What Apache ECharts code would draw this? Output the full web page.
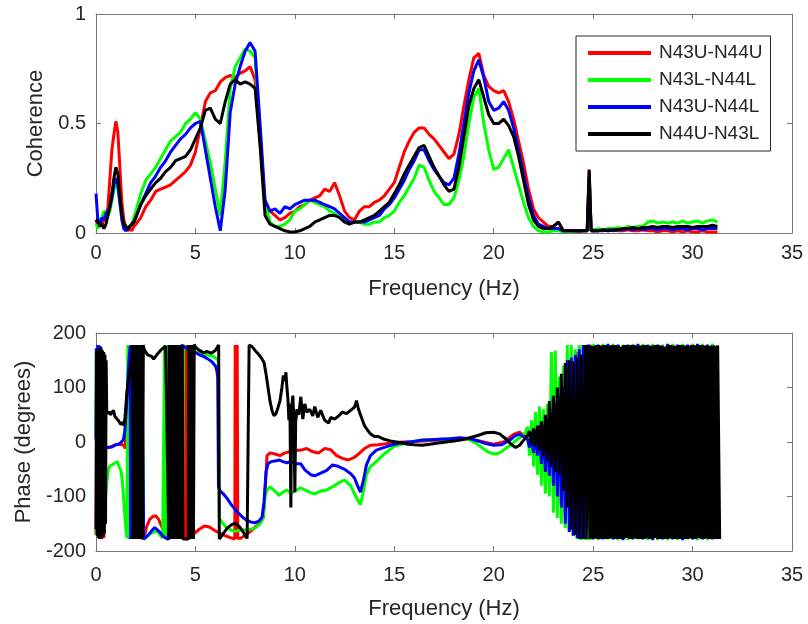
<!DOCTYPE html>
<html>
<head>
<meta charset="utf-8">
<script src="https://cdn.jsdelivr.net/npm/echarts@6.0.0/dist/echarts.min.js"></script>
<style>
  html, body { margin: 0; padding: 0; background: #ffffff; }
  #chart { width: 808px; height: 624px; }
</style>
</head>
<body>
<div id="chart"></div>
<script>
// Pair names and line colours (legend order)
const PAIRS = ['N43U-N44U', 'N43L-N44L', 'N43U-N44L', 'N44U-N43L'];
const COLORS = ['#ff0000', '#00ff00', '#0000ff', '#000000'];

// Frequency grid of the coherence estimates (Hz)
const FREQ = [
  0, 0.1, 0.2, 0.3, 0.4, 0.5, 0.6, 0.7, 0.8, 0.9,
  1, 1.1, 1.2, 1.3, 1.4, 1.5, 1.6, 1.7, 1.8, 1.9,
  2, 2.25, 2.5, 2.75,
  3, 3.25, 3.5, 3.75,
  4, 4.25, 4.5, 4.75,
  5, 5.25, 5.5, 5.75,
  6, 6.25, 6.5, 6.75,
  7, 7.25, 7.5, 7.75,
  8, 8.25, 8.5, 8.75,
  9, 9.25, 9.5, 9.75,
  10, 10.25, 10.5, 10.75,
  11, 11.25, 11.5, 11.75,
  12, 12.25, 12.5, 12.75,
  13, 13.25, 13.5, 13.75,
  14, 14.25, 14.5, 14.75,
  15, 15.25, 15.5, 15.75,
  16, 16.25, 16.5, 16.75,
  17, 17.25, 17.5, 17.75,
  18, 18.25, 18.5, 18.75,
  19, 19.25, 19.5, 19.75,
  20, 20.25, 20.5, 20.75,
  21, 21.25, 21.5, 21.75,
  22, 22.25, 22.5, 22.75,
  23, 23.25, 23.5, 23.75,
  24, 24.25, 24.5, 24.7, 24.8, 24.9,
  25, 25.25, 25.5, 25.75,
  26, 26.25, 26.5, 26.75,
  27, 27.25, 27.5, 27.75,
  28, 28.25, 28.5, 28.75,
  29, 29.25, 29.5, 29.75,
  30, 30.25, 30.5, 30.75,
  31, 31.25
];

// Coherence, one value per FREQ entry
const COH_N43U_N44U = [
  0.06, 0.03, 0.05, 0.04, 0.06, 0.08, 0.12, 0.25, 0.38, 0.45,
  0.51, 0.46, 0.30, 0.14, 0.06, 0.03, 0.01, 0.02, 0.01, 0.03,
  0.04, 0.07, 0.12, 0.15,
  0.19, 0.20, 0.21, 0.22,
  0.24, 0.26, 0.28, 0.31,
  0.37, 0.48, 0.60, 0.64,
  0.65, 0.69, 0.71, 0.72,
  0.71, 0.73, 0.74, 0.76,
  0.70, 0.42, 0.14, 0.10,
  0.08, 0.06, 0.07, 0.09,
  0.10, 0.12, 0.13, 0.15,
  0.16, 0.17, 0.20, 0.19,
  0.23, 0.17, 0.10, 0.07,
  0.06, 0.10, 0.12, 0.12,
  0.14, 0.15, 0.17, 0.20,
  0.23, 0.30, 0.37, 0.42,
  0.46, 0.48, 0.48, 0.45,
  0.43, 0.40, 0.37, 0.34,
  0.36, 0.45, 0.58, 0.70,
  0.80, 0.82, 0.72, 0.67,
  0.65, 0.64, 0.65, 0.60,
  0.52, 0.42, 0.32, 0.20,
  0.11, 0.07, 0.05, 0.03,
  0.03, 0.05, 0.01, 0.01,
  0.01, 0.005, 0.01, 0.01, 0.28, 0.01,
  0.01, 0.01, 0.015, 0.01,
  0.015, 0.01, 0.01, 0.015,
  0.01, 0.01, 0.015, 0.01,
  0.01, 0.005, 0.01, 0.01,
  0.005, 0.01, 0.005, 0.01,
  0.005, 0.005, 0.01, 0.005,
  0.005, 0.005
];
const COH_N43L_N44L = [
  0.04, 0.02, 0.06, 0.07, 0.10, 0.09, 0.08, 0.10, 0.15, 0.20,
  0.23, 0.20, 0.14, 0.08, 0.04, 0.02, 0.02, 0.03, 0.04, 0.07,
  0.10, 0.18, 0.24, 0.27,
  0.30, 0.34, 0.38, 0.42,
  0.44, 0.46, 0.50, 0.52,
  0.55, 0.52, 0.42, 0.32,
  0.20, 0.08, 0.33, 0.66,
  0.76, 0.80, 0.84, 0.83,
  0.80, 0.45, 0.14, 0.05,
  0.03, 0.03, 0.04, 0.06,
  0.10, 0.11, 0.13, 0.15,
  0.14, 0.13, 0.12, 0.10,
  0.09, 0.07, 0.06, 0.05,
  0.05, 0.05, 0.04, 0.04,
  0.05, 0.05, 0.07, 0.08,
  0.10, 0.14, 0.17, 0.21,
  0.25, 0.31, 0.30, 0.24,
  0.19, 0.16, 0.13, 0.13,
  0.16, 0.24, 0.35, 0.50,
  0.62, 0.66, 0.50, 0.38,
  0.29, 0.30, 0.34, 0.38,
  0.30, 0.22, 0.14, 0.07,
  0.03, 0.01, 0.005, 0.005,
  0.01, 0.01, 0.005, 0.01,
  0.005, 0.01, 0.01, 0.01, 0.02, 0.01,
  0.015, 0.02, 0.015, 0.02,
  0.02, 0.025, 0.02, 0.03,
  0.025, 0.03, 0.03, 0.05,
  0.055, 0.045, 0.05, 0.045,
  0.05, 0.045, 0.055, 0.045,
  0.05, 0.055, 0.045, 0.055,
  0.06, 0.05
];
const COH_N43U_N44L = [
  0.18, 0.05, 0.04, 0.07, 0.06, 0.09, 0.10, 0.12, 0.16, 0.22,
  0.25, 0.22, 0.14, 0.06, 0.02, 0.01, 0.02, 0.03, 0.04, 0.05,
  0.07, 0.13, 0.18, 0.23,
  0.26, 0.30, 0.33, 0.37,
  0.40, 0.43, 0.45, 0.48,
  0.50, 0.51, 0.38, 0.25,
  0.12, 0.01, 0.20, 0.55,
  0.68, 0.76, 0.83, 0.87,
  0.83, 0.50, 0.15, 0.10,
  0.11, 0.09, 0.12, 0.11,
  0.13, 0.14, 0.15, 0.15,
  0.15, 0.14, 0.13, 0.12,
  0.11, 0.09, 0.07, 0.05,
  0.05, 0.05, 0.05, 0.06,
  0.07, 0.08, 0.11, 0.13,
  0.16, 0.20, 0.24, 0.29,
  0.33, 0.38, 0.38, 0.33,
  0.29, 0.26, 0.23, 0.22,
  0.25, 0.36, 0.50, 0.64,
  0.74, 0.79, 0.71, 0.60,
  0.56, 0.57, 0.60, 0.56,
  0.48, 0.38, 0.27, 0.16,
  0.08, 0.04, 0.03, 0.02,
  0.02, 0.02, 0.01, 0.01,
  0.01, 0.01, 0.01, 0.01, 0.26, 0.01,
  0.01, 0.01, 0.01, 0.015,
  0.01, 0.015, 0.015, 0.02,
  0.015, 0.02, 0.015, 0.02,
  0.02, 0.015, 0.02, 0.02,
  0.015, 0.02, 0.02, 0.015,
  0.02, 0.02, 0.015, 0.02,
  0.02, 0.02
];
const COH_N44U_N43L = [
  0.06, 0.05, 0.03, 0.04, 0.02, 0.04, 0.08, 0.12, 0.18, 0.25,
  0.30, 0.27, 0.17, 0.09, 0.04, 0.03, 0.02, 0.03, 0.03, 0.05,
  0.07, 0.13, 0.17, 0.20,
  0.23, 0.25, 0.28, 0.30,
  0.33, 0.34, 0.35, 0.38,
  0.43, 0.48, 0.56, 0.57,
  0.52, 0.50, 0.60, 0.68,
  0.70, 0.68, 0.69, 0.68,
  0.66, 0.40, 0.08, 0.04,
  0.03, 0.02, 0.01, 0.005,
  0.005, 0.01, 0.02, 0.03,
  0.05, 0.06, 0.07, 0.08,
  0.08, 0.07, 0.05, 0.04,
  0.05, 0.05, 0.06, 0.07,
  0.08, 0.10, 0.12, 0.14,
  0.18, 0.22, 0.27, 0.31,
  0.35, 0.39, 0.40, 0.35,
  0.30, 0.26, 0.22, 0.19,
  0.20, 0.30, 0.44, 0.58,
  0.66, 0.70, 0.62, 0.54,
  0.50, 0.50, 0.52, 0.49,
  0.44, 0.35, 0.24, 0.13,
  0.06, 0.03, 0.02, 0.02,
  0.03, 0.05, 0.01, 0.01,
  0.01, 0.01, 0.01, 0.01, 0.29, 0.01,
  0.01, 0.01, 0.015, 0.01,
  0.015, 0.015, 0.02, 0.02,
  0.025, 0.02, 0.025, 0.025,
  0.03, 0.025, 0.03, 0.03,
  0.025, 0.03, 0.03, 0.03,
  0.025, 0.03, 0.03, 0.03,
  0.035, 0.03
];

// Phase (degrees) as [frequency, phase] pairs, up to 24.75 Hz
const PH_N43U_N44U = [
  [0, -170], [0.05, 160], [0.1, -175], [0.15, 170], [0.2, -178], [0.25, 172], [0.3, -178], [0.35, 165], [0.4, -176],
  [0.45, -10], [0.5, -10], [0.6, -10], [0.7, -8], [0.8, -8], [0.9, -6], [1.0, -5], [1.1, -5], [1.2, -4], [1.3, -3],
  [1.4, -6], [1.48, -12], [1.5, 45], [1.55, 60], [1.62, 120], [1.7, 178], [1.72, -178], [1.8, 178], [1.9, -178],
  [2.0, 178], [2.1, -178], [2.2, 178], [2.3, -178], [2.42, -176], [2.55, -155], [2.7, -142], [2.85, -137],
  [3.0, -135], [3.15, -142], [3.3, -155], [3.45, -166], [3.6, -175], [3.7, 178], [3.8, -178], [3.9, 178],
  [4.0, -178], [4.1, 178], [4.2, -178], [4.3, 178], [4.38, -178], [4.42, 178], [4.46, -178], [4.5, 178],
  [4.54, -178], [4.58, 178], [4.62, -178], [4.8, -174], [5.0, -166], [5.2, -160], [5.45, -154], [5.7, -156],
  [5.95, -162], [6.2, -167], [6.5, -172], [6.8, -176], [6.98, -178], [7.0, 178], [7.05, -178], [7.1, 178],
  [7.13, -177], [7.3, -176], [7.5, -171], [7.7, -166], [7.9, -160], [8.1, -153], [8.3, -146], [8.42, -138],
  [8.52, -80], [8.6, -25], [8.75, -20], [9.0, -22], [9.25, -25], [9.5, -20], [9.75, -18], [10.0, -15],
  [10.3, -15], [10.6, -12], [10.9, -18], [11.2, -20], [11.5, -12], [11.8, -14], [12.1, -25], [12.4, -30],
  [12.7, -33], [13.0, -28], [13.2, -22], [13.5, -12], [13.8, -6], [14.2, -5], [14.6, -3], [15.0, -1],
  [15.5, 0], [16.0, 1], [16.5, 2], [17.0, 3], [17.5, 4], [18.0, 6], [18.5, 5], [19.0, 4], [19.5, 0],
  [20.0, -4], [20.5, 0], [21.0, 14], [21.3, 18], [21.6, 10], [21.8, 5],
  [22.0, -15], [22.2, 20], [22.4, -30], [22.6, 35], [22.8, -50], [23.0, 55], [23.2, -80], [23.4, 90],
  [23.6, -130], [23.8, 140], [24.0, -165], [24.2, 165], [24.4, -178], [24.6, 178], [24.75, -178]
];
const PH_N43L_N44L = [
  [0, 5], [0.01, 170], [0.03, -170], [0.06, 160], [0.1, -175], [0.14, 165], [0.18, -178], [0.22, 170],
  [0.26, -175], [0.3, 160], [0.34, -170], [0.38, 150], [0.42, -165], [0.46, -120], [0.5, -92], [0.56, -70],
  [0.62, -50], [0.7, -44], [0.8, -46], [0.9, -40], [1.0, -38], [1.08, -36], [1.16, -45], [1.25, -52],
  [1.32, -70], [1.4, -110], [1.48, -150], [1.55, -176], [1.6, 178], [1.65, -178], [1.7, 176], [1.75, -177],
  [1.8, 178], [1.85, -178], [1.9, 178], [2.0, -178], [2.1, 178], [2.2, -178], [2.3, 178], [2.4, -178],
  [2.5, -176], [2.6, -172], [2.75, -168], [2.9, -165], [3.0, -162], [3.1, -164], [3.2, -170], [3.35, -176],
  [3.42, -179], [3.45, 178], [3.5, -178], [3.55, 178], [3.6, -178], [3.65, 178], [3.75, -178], [3.85, 178],
  [3.95, -178], [4.05, 178], [4.15, -178], [4.25, 178], [4.35, -178], [4.4, 178], [4.5, 172], [4.7, 170],
  [5.0, 165], [5.3, 163], [5.6, 160], [5.9, 157], [6.1, 152], [6.15, 148], [6.2, -140], [6.3, -145],
  [6.5, -155], [6.75, -161], [7.0, -164], [7.25, -162], [7.5, -161], [7.75, -160], [8.0, -158], [8.25, -150],
  [8.4, -140], [8.5, -100], [8.6, -88], [8.75, -82], [9.0, -90], [9.2, -98], [9.4, -92], [9.6, -88],
  [9.8, -95], [10.0, -90], [10.3, -84], [10.5, -88], [10.8, -93], [11.0, -95], [11.3, -90], [11.6, -88],
  [11.9, -82], [12.2, -75], [12.5, -70], [12.8, -80], [13.0, -95], [13.15, -106], [13.3, -115], [13.45, -90],
  [13.6, -60], [13.8, -45], [14.1, -36], [14.4, -25], [14.7, -16], [15.0, -8], [15.4, -4], [15.8, 0],
  [16.3, 3], [16.8, 4], [17.3, 5], [17.8, 6], [18.3, 7], [18.8, 4], [19.1, -2], [19.4, -10], [19.7, -18],
  [20.0, -22], [20.3, -20], [20.6, -12], [20.9, -4], [21.2, 5], [21.4, 10], [21.6, 18], [21.7, 28],
  [21.8, -25], [21.9, 40], [22.0, -45], [22.1, 55], [22.2, -60], [22.3, 65], [22.4, -80], [22.5, 60],
  [22.6, -95], [22.7, 70], [22.8, -100], [22.9, 165], [23.0, -130], [23.1, 168], [23.2, -140], [23.3, 120],
  [23.4, -150], [23.5, 140], [23.6, -158], [23.7, 178], [23.8, -165], [23.9, 178], [24.0, -172], [24.1, 170],
  [24.2, -178], [24.3, 178], [24.4, -180], [24.5, 178], [24.6, -180], [24.7, 179], [24.75, -180]
];
const PH_N43U_N44L = [
  [0, 5], [0.02, 172], [0.06, -150], [0.09, 178], [0.13, -170], [0.16, 177], [0.2, -176], [0.24, 175],
  [0.28, -172], [0.32, 165], [0.36, -160], [0.4, 120], [0.44, -12], [0.5, -12], [0.6, -10], [0.7, -8],
  [0.8, -9], [0.9, -6], [1.0, -5], [1.1, -4], [1.2, -3], [1.3, -2], [1.38, 4], [1.45, 20], [1.52, 60],
  [1.6, 110], [1.66, 150], [1.72, 176], [1.74, -178], [1.78, 178], [1.82, -178], [1.9, 178], [2.0, -178],
  [2.1, 178], [2.2, -178], [2.3, 178], [2.4, -178], [2.5, -175], [2.65, -170], [2.8, -163], [2.95, -157],
  [3.05, -158], [3.2, -165], [3.35, -172], [3.5, -176], [3.65, -179], [3.68, 178], [3.8, -178], [3.9, 178],
  [4.0, -178], [4.1, 178], [4.2, -178], [4.3, 178], [4.45, 174], [4.6, 171], [4.8, 168], [5.0, 164],
  [5.2, 160], [5.4, 157], [5.6, 153], [5.8, 148], [6.0, 140], [6.08, 130], [6.12, 118], [6.16, -82],
  [6.25, -90], [6.4, -95], [6.6, -104], [6.8, -115], [7.0, -124], [7.2, -132], [7.4, -139], [7.6, -144],
  [7.8, -147], [8.0, -148], [8.2, -145], [8.35, -138], [8.45, -110], [8.55, -55], [8.65, -40], [8.8, -36],
  [9.0, -35], [9.2, -33], [9.4, -36], [9.6, -38], [9.8, -36], [10.0, -40], [10.3, -40], [10.5, -51],
  [10.8, -60], [11.0, -62], [11.3, -57], [11.6, -52], [11.9, -42], [12.2, -45], [12.5, -50], [12.8, -58],
  [13.0, -66], [13.15, -80], [13.3, -92], [13.45, -70], [13.6, -42], [13.8, -25], [14.1, -15], [14.5, -10],
  [14.9, -5], [15.3, -2], [15.8, 0], [16.3, 3], [16.8, 4], [17.3, 5], [17.8, 6], [18.3, 8], [18.8, 6],
  [19.2, 2], [19.6, -3], [20.0, -6], [20.4, -5], [20.8, 3], [21.1, 12], [21.3, 14], [21.5, 10], [21.7, 5],
  [21.8, -10], [21.9, 18], [22.0, -20], [22.1, 22], [22.2, -25], [22.3, 30], [22.4, -40], [22.5, 30],
  [22.6, -55], [22.7, 40], [22.8, -62], [22.9, 55], [23.0, -80], [23.1, 70], [23.2, -100], [23.3, 85],
  [23.4, -120], [23.5, 100], [23.6, -150], [23.7, 150], [23.8, -165], [23.9, 155], [24.0, -172], [24.1, 160],
  [24.2, -176], [24.3, 170], [24.4, -178], [24.5, 178], [24.6, -178], [24.7, 178], [24.75, -178]
];
const PH_N44U_N43L = [
  [0, -160], [0.03, 165], [0.06, -172], [0.09, 170], [0.12, -176], [0.15, 172], [0.18, -178], [0.21, 174],
  [0.24, -177], [0.27, 170], [0.3, -175], [0.33, 168], [0.36, -172], [0.39, 165], [0.42, -168], [0.45, 160],
  [0.48, -150], [0.51, 150], [0.54, 56], [0.6, 52], [0.66, 56], [0.72, 50], [0.8, 53], [0.88, 58], [0.95, 47],
  [1.05, 44], [1.15, 38], [1.25, 32], [1.35, 36], [1.42, 30], [1.48, 55], [1.55, 90], [1.62, 110], [1.7, 130],
  [1.78, 150], [1.82, 178], [1.86, -178], [1.9, 178], [1.94, -178], [1.98, 176], [2.02, -178], [2.06, 178],
  [2.1, -176], [2.14, 178], [2.18, -178], [2.22, 177], [2.26, -178], [2.3, 178], [2.34, -177], [2.38, 178],
  [2.42, 170], [2.5, 165], [2.6, 160], [2.7, 163], [2.8, 157], [2.9, 152], [3.0, 155], [3.1, 162], [3.2, 166],
  [3.3, 170], [3.4, 173], [3.5, 176], [3.6, 178], [3.66, -178], [3.7, 178], [3.74, -178], [3.78, 178],
  [3.82, -178], [3.86, 178], [3.9, -178], [3.94, 178], [3.98, -178], [4.02, 178], [4.06, -178], [4.1, 178],
  [4.14, -178], [4.18, 178], [4.22, -178], [4.26, 178], [4.3, -178], [4.34, 178], [4.37, -178], [4.5, -178],
  [4.64, -178], [4.67, 178], [4.72, -178], [4.76, 178], [4.8, -178], [4.85, 178], [4.9, -178], [4.94, 179],
  [5.0, 174], [5.2, 168], [5.4, 164], [5.6, 166], [5.8, 163], [6.0, 168], [6.1, 174], [6.17, 178],
  [6.2, -178], [6.4, -168], [6.6, -158], [6.8, -152], [7.0, -149], [7.2, -155], [7.4, -165], [7.6, -177],
  [7.66, -179], [7.7, 178], [7.85, 175], [8.0, 168], [8.15, 162], [8.3, 155], [8.45, 146], [8.55, 125],
  [8.65, 100], [8.75, 75], [8.85, 58], [8.95, 48], [9.05, 52], [9.15, 63], [9.25, 75], [9.35, 100],
  [9.42, 122], [9.5, 112], [9.55, 128], [9.6, 100], [9.65, 80], [9.7, 40], [9.75, 70], [9.8, -120],
  [9.83, 60], [9.9, 85], [9.95, 40], [10.0, -92], [10.04, 35], [10.1, 60], [10.2, 50], [10.3, 83],
  [10.4, 42], [10.5, 70], [10.6, 55], [10.75, 60], [10.9, 48], [11.0, 65], [11.15, 45], [11.3, 58],
  [11.5, 40], [11.7, 35], [11.8, 45], [12.0, 42], [12.2, 48], [12.4, 55], [12.6, 52], [12.8, 58],
  [13.0, 64], [13.1, 76], [13.2, 60], [13.35, 45], [13.5, 30], [13.65, 22], [13.8, 15], [14.0, 10],
  [14.2, 10], [14.5, 5], [14.8, 2], [15.1, 0], [15.4, -2], [15.7, -4], [16.0, -5], [16.4, -6], [16.8, -4],
  [17.2, -2], [17.6, 0], [18.0, 2], [18.4, 4], [18.8, 8], [19.2, 12], [19.6, 17], [20.0, 18], [20.3, 15],
  [20.6, 6], [20.9, -5], [21.1, -10], [21.3, -6], [21.5, 3], [21.7, 12], [21.8, 20],
  [21.9, -5], [22.0, 25], [22.1, -8], [22.2, 30], [22.3, -15], [22.4, 38], [22.5, -25], [22.6, 50],
  [22.7, -35], [22.8, 75], [22.9, -45], [23.0, 85], [23.1, -55], [23.2, 100], [23.3, -60], [23.4, 125],
  [23.5, -90], [23.6, 145], [23.7, -120], [23.8, 150], [23.9, -160], [24.0, 148], [24.1, -170], [24.2, 155],
  [24.3, -178], [24.4, 160], [24.5, -178], [24.6, 178], [24.7, -178], [24.75, 178]
];

// Wrapped phase above 24.8 Hz (flips between +180 and -180 every bin)
const PH_TAIL_N43U_N44U = [
  [24.8, 178], [25, -178], [25.25, 178], [25.5, -178], [25.75, 178], [26, -178], [26.25, 178], [26.5, -178],
  [26.75, 178], [27, -178], [27.25, 178], [27.5, -178], [27.75, 178], [28, -178], [28.25, 178], [28.5, -178],
  [28.75, 178], [29, -178], [29.25, 178], [29.5, -178], [29.75, 178], [30, -178], [30.25, 178], [30.5, -178],
  [30.75, 178], [31, -178], [31.25, 178]
];
const PH_TAIL_N43L_N44L = [
  [24.8, -180], [25, 180], [25.25, -180], [25.5, 180], [25.75, -179], [26, 180], [26.25, -180], [26.5, 179],
  [26.75, -180], [27, 180], [27.25, -179], [27.5, 180], [27.75, -180], [28, 180], [28.25, -180], [28.5, 179],
  [28.75, -180], [29, 180], [29.25, -180], [29.5, 180], [29.75, -179], [30, 180], [30.25, -180], [30.5, 180],
  [30.75, -180], [31, 180], [31.25, 150]
];
const PH_TAIL_N43U_N44L = [
  [24.8, 179], [25, -179], [25.25, 179], [25.5, -179], [25.75, 180], [26, -179], [26.25, 179], [26.5, -180],
  [26.75, 179], [27, -179], [27.25, 180], [27.5, -179], [27.75, 179], [28, -180], [28.25, 179], [28.5, -179],
  [28.75, 180], [29, -179], [29.25, 179], [29.5, -180], [29.75, 179], [30, -179], [30.25, 180], [30.5, -179],
  [30.75, 179], [31, -179], [31.25, 80]
];
const TAIL_FREQ_N44U_N43L = [
  24.8, 24.9, 25.0, 25.1, 25.2, 25.3, 25.4, 25.5, 25.6, 25.7,
  25.8, 25.9, 26.0, 26.1, 26.2, 26.3, 26.4, 26.5, 26.6, 26.7,
  26.8, 26.9, 27.0, 27.1, 27.2, 27.3, 27.4, 27.5, 27.6, 27.7,
  27.8, 27.9, 28.0, 28.1, 28.2, 28.3, 28.4, 28.5, 28.6, 28.7,
  28.8, 28.9, 29.0, 29.1, 29.2, 29.3, 29.4, 29.5, 29.6, 29.7,
  29.8, 29.9, 30.0, 30.1, 30.2, 30.3, 30.4, 30.5, 30.6, 30.7,
  30.8, 30.9, 31.0, 31.1, 31.2, 31.3
];
const PH_TAIL_N44U_N43L = [
  177, -178, 176, -177, 178, -178, 177, -176, 178, -178,
  176, -177, 178, -178, 177, -178, 175, -177, 178, -176,
  177, -178, 178, -177, 176, -178, 177, -178, 178, -177,
  176, -178, 177, -176, 178, -178, 177, -177, 175, -178,
  178, -177, 177, -178, 176, -178, 178, -177, 177, -178,
  176, -177, 178, -178, 177, -176, 178, -178, 177, -177,
  176, -178, 177, -178, 176, -178
];

// Axis ranges and tick spacing
const FREQ_AXIS = { min: 0, max: 35, interval: 5 };
const COH_AXIS = { min: 0, max: 1, interval: 0.5 };
const PHASE_AXIS = { min: -200, max: 200, interval: 100 };

const FONT = '"Liberation Sans", Arial, Helvetica, sans-serif';
const INK = '#262626';
const FRAME = '#777777';

const COHERENCE = [COH_N43U_N44U, COH_N43L_N44L, COH_N43U_N44L, COH_N44U_N43L];
const PHASE = [PH_N43U_N44U, PH_N43L_N44L, PH_N43U_N44L, PH_N44U_N43L];
const PHASE_TAIL = [
  PH_TAIL_N43U_N44U,
  PH_TAIL_N43L_N44L,
  PH_TAIL_N43U_N44L,
  TAIL_FREQ_N44U_N43L.map((f, i) => [f, PH_TAIL_N44U_N43L[i]])
];
// The dense wrap-around zigzag of the last pair is stroked wider so it reads as a solid band
const TAIL_WIDTH = [3, 3, 3, 5.5];

function frameAxis(base, extra) {
  return Object.assign({
    type: 'value',
    axisLine: { show: true, onZero: false, lineStyle: { color: FRAME, width: 1 } },
    axisTick: { show: true, inside: true, length: 5, lineStyle: { color: FRAME, width: 1 } },
    axisLabel: { show: true, color: INK, fontSize: 20, fontFamily: FONT, margin: 10 },
    splitLine: { show: false }
  }, base, extra);
}

const nameStyle = { color: INK, fontSize: 22, fontFamily: FONT };
const bottomLabel = { show: true, color: INK, fontSize: 20, fontFamily: FONT, margin: 14 };

const xAxes = [
  frameAxis(FREQ_AXIS, { gridIndex: 0, position: 'bottom', name: 'Frequency (Hz)',
    nameLocation: 'middle', nameGap: 45, nameTextStyle: nameStyle }),
  frameAxis(FREQ_AXIS, { gridIndex: 0, position: 'top', axisLabel: { show: false } }),
  frameAxis(FREQ_AXIS, { gridIndex: 1, position: 'bottom', name: 'Frequency (Hz)',
    nameLocation: 'middle', nameGap: 47, nameTextStyle: nameStyle, axisLabel: bottomLabel }),
  frameAxis(FREQ_AXIS, { gridIndex: 1, position: 'top', axisLabel: { show: false } })
];
const yAxes = [
  frameAxis(COH_AXIS, { gridIndex: 0, position: 'left', name: 'Coherence',
    nameLocation: 'middle', nameGap: 47, nameTextStyle: nameStyle }),
  frameAxis(COH_AXIS, { gridIndex: 0, position: 'right', axisLabel: { show: false } }),
  frameAxis(PHASE_AXIS, { gridIndex: 1, position: 'left', name: 'Phase (degrees)',
    nameLocation: 'middle', nameGap: 60, nameTextStyle: nameStyle }),
  frameAxis(PHASE_AXIS, { gridIndex: 1, position: 'right', axisLabel: { show: false } })
];

function lineSeries(name, color, xi, yi, data, width) {
  return {
    type: 'line', name: name, xAxisIndex: xi, yAxisIndex: yi, data: data,
    showSymbol: false, symbol: 'none', clip: true,
    lineStyle: { color: color, width: width, join: 'bevel' }, itemStyle: { color: color },
    emphasis: { disabled: true }, silent: true
  };
}

const series = [];
PAIRS.forEach((name, i) => {
  series.push(lineSeries(name, COLORS[i], 0, 0, FREQ.map((f, j) => [f, COHERENCE[i][j]]), 3));
});
PAIRS.forEach((name, i) => {
  series.push(lineSeries(name, COLORS[i], 2, 2, PHASE[i], 3));
});
PAIRS.forEach((name, i) => {
  series.push(lineSeries(name, COLORS[i], 2, 2, PHASE_TAIL[i], TAIL_WIDTH[i]));
});

const chart = echarts.init(document.getElementById('chart'), null, { renderer: 'canvas' });
chart.setOption({
  animation: false,
  backgroundColor: '#ffffff',
  grid: [
    { left: 96, top: 14, width: 696, height: 219 },
    { left: 96, top: 333, width: 696, height: 218 }
  ],
  xAxis: xAxes,
  yAxis: yAxes,
  legend: {
    data: PAIRS,
    orient: 'vertical',
    left: 576, top: 36,
    padding: [7, 8, 7, 12],
    itemGap: 7,
    itemWidth: 63, itemHeight: 4,
    icon: 'rect',
    selectedMode: false,
    backgroundColor: '#ffffff',
    borderColor: INK, borderWidth: 1,
    textStyle: { color: INK, fontSize: 19, fontFamily: FONT, lineHeight: 20, padding: [0, 0, 0, 3] }
  },
  series: series
});
</script>
</body>
</html>
